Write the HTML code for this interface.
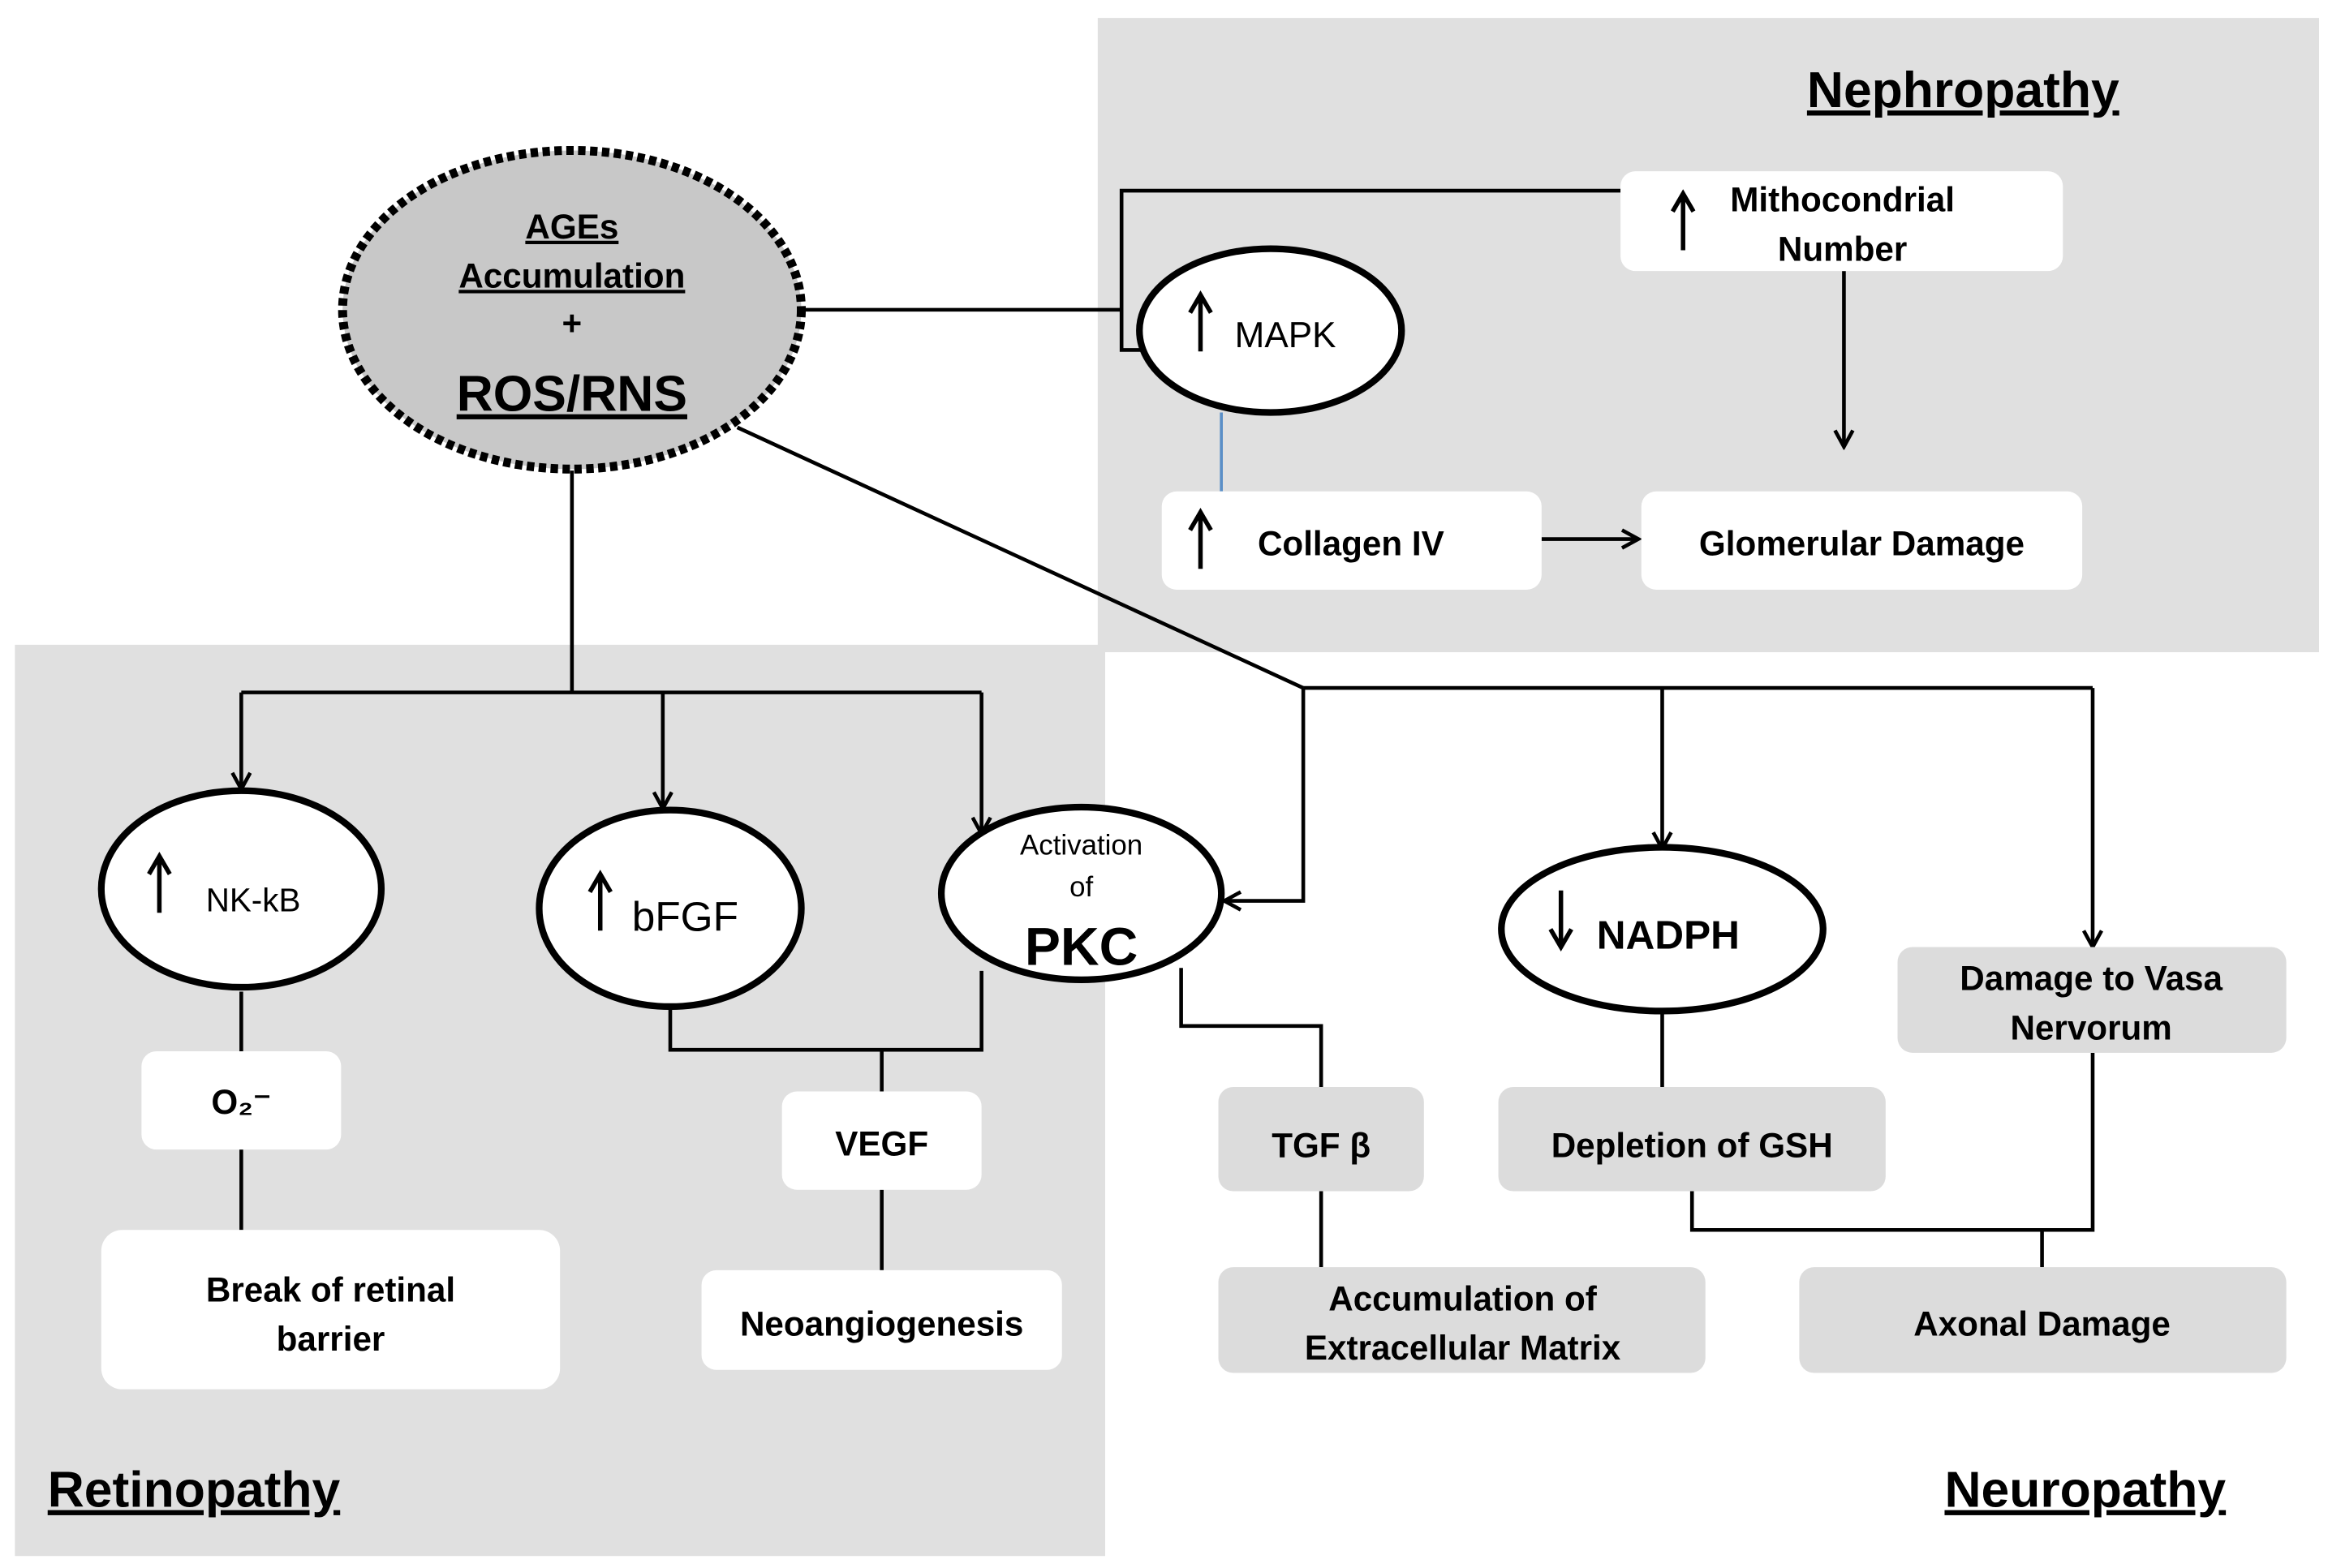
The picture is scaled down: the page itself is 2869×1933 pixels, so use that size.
<!DOCTYPE html>
<html><head><meta charset="utf-8"><style>
html,body{margin:0;padding:0;background:#fff}
svg{display:block}
text{font-family:"Liberation Sans",sans-serif;fill:#000}
.b{font-weight:bold;font-size:23px}
</style></head><body>
<svg width="2869" height="1933" viewBox="0 0 1563 1053" xmlns="http://www.w3.org/2000/svg">
<defs>
<marker id="a" markerWidth="14" markerHeight="14" refX="12" refY="7" orient="auto" markerUnits="userSpaceOnUse">
<path d="M1,1 L12,7 L1,13" fill="none" stroke="#000" stroke-width="2.5"/></marker>
</defs>
<rect width="1563" height="1053" fill="#fff"/>
<rect x="737" y="12" width="820" height="426" fill="#e0e0e0"/>
<rect x="10" y="433" width="732" height="612" fill="#e0e0e0"/>
<g stroke="#000" stroke-width="2.5" fill="none">
<polyline points="538,208 753,208"/>
<polyline points="1088,128 753,128 753,235 768,235"/>
<polyline points="1238,182 1238,300" marker-end="url(#a)"/>
<polyline points="1035,362 1100,362" marker-end="url(#a)"/>
<polyline points="495,287 875,462"/>
<polyline points="875,462 1405,462"/>
<polyline points="875,462 875,605 822,605" marker-end="url(#a)"/>
<polyline points="1116,462 1116,570" marker-end="url(#a)"/>
<polyline points="1405,462 1405,636" marker-end="url(#a)"/>
<polyline points="384,316 384,465"/>
<polyline points="162,465 659,465"/>
<polyline points="162,465 162,530" marker-end="url(#a)"/>
<polyline points="445,465 445,543" marker-end="url(#a)"/>
<polyline points="659,465 659,560" marker-end="url(#a)"/>
<polyline points="162,666 162,706"/><polyline points="162,772 162,826"/>
<polyline points="450,676 450,705 659,705 659,652"/>
<polyline points="592,705 592,733"/><polyline points="592,799 592,853"/>
<polyline points="793,650 793,689 887,689 887,730"/><polyline points="887,800 887,851"/>
<polyline points="1116,680 1116,730"/>
<polyline points="1136,800 1136,826 1405,826 1405,707"/><polyline points="1371,826 1371,851"/>
</g>
<line x1="820" y1="277" x2="820" y2="330" stroke="#5b8fc7" stroke-width="2"/>
<ellipse cx="384" cy="208" rx="154" ry="107" fill="#c8c8c8" stroke="#000" stroke-width="6" stroke-dasharray="5,3"/>
<g fill="#fff" stroke="#000" stroke-width="4.5">
<ellipse cx="853" cy="222" rx="88" ry="55"/>
<ellipse cx="162" cy="597" rx="94" ry="66"/>
<ellipse cx="450" cy="610" rx="88" ry="66"/>
<ellipse cx="726" cy="600" rx="94" ry="58"/>
<ellipse cx="1116" cy="624" rx="108" ry="55"/>
</g>
<g fill="#fff">
<rect x="1088" y="115" width="297" height="67" rx="10"/>
<rect x="780" y="330" width="255" height="66" rx="10"/>
<rect x="1102" y="330" width="296" height="66" rx="10"/>
<rect x="95" y="706" width="134" height="66" rx="10"/>
<rect x="68" y="826" width="308" height="107" rx="14"/>
<rect x="525" y="733" width="134" height="66" rx="10"/>
<rect x="471" y="853" width="242" height="67" rx="10"/>
</g>
<g fill="#dcdcdc">
<rect x="1274" y="636" width="261" height="71" rx="10"/>
<rect x="818" y="730" width="138" height="70" rx="10"/>
<rect x="818" y="851" width="327" height="71" rx="10"/>
<rect x="1006" y="730" width="260" height="70" rx="10"/>
<rect x="1208" y="851" width="327" height="71" rx="10"/>
</g>
<g text-anchor="middle">
<text x="384" y="160" class="b" text-decoration="underline">AGEs</text>
<text x="384" y="193" class="b" text-decoration="underline">Accumulation</text>
<text x="384" y="225" class="b">+</text>
<text x="384" y="276" font-weight="bold" font-size="34" text-decoration="underline">ROS/RNS</text>
<text x="1318" y="72" font-weight="bold" font-size="34" text-decoration="underline">Nephropathy</text>
<text x="1237" y="142" class="b">Mithocondrial</text>
<text x="1237" y="175" class="b">Number</text>
<text x="863" y="233" font-size="24">MAPK</text>
<text x="907" y="373" class="b">Collagen IV</text>
<text x="1250" y="373" class="b">Glomerular Damage</text>
<text x="170" y="612" font-size="22">NK-kB</text>
<text x="460" y="625" font-size="28">bFGF</text>
<text x="726" y="574" font-size="19">Activation</text>
<text x="726" y="602" font-size="19">of</text>
<text x="726" y="648" font-weight="bold" font-size="36">PKC</text>
<text x="1120" y="637" font-weight="bold" font-size="27">NADPH</text>
<text x="1404" y="665" class="b">Damage to Vasa</text>
<text x="1404" y="698" class="b">Nervorum</text>
<text x="162" y="748" class="b">O₂⁻</text>
<text x="222" y="874" class="b">Break of retinal</text>
<text x="222" y="907" class="b">barrier</text>
<text x="592" y="776" class="b">VEGF</text>
<text x="592" y="897" class="b">Neoangiogenesis</text>
<text x="887" y="777" class="b">TGF β</text>
<text x="982" y="880" class="b">Accumulation  of</text>
<text x="982" y="913" class="b">Extracellular  Matrix</text>
<text x="1136" y="777" class="b">Depletion of GSH</text>
<text x="1371" y="897" class="b">Axonal Damage</text>
<text x="1400" y="1012" font-weight="bold" font-size="34" text-decoration="underline">Neuropathy</text>
</g>
<text x="32" y="1012" font-weight="bold" font-size="34" text-decoration="underline">Retinopathy</text>
<g stroke="#000" stroke-width="3" fill="none">
<path d="M806,236 V198 M799,210 L806,198 L813,210"/>
<path d="M1130,168 V130 M1123,142 L1130,130 L1137,142"/>
<path d="M806,382 V344 M799,356 L806,344 L813,356"/>
<path d="M107,613 V575 M100,587 L107,575 L114,587"/>
<path d="M403,625 V587 M396,599 L403,587 L410,599"/>
<path d="M1048,598 V636 M1041,624 L1048,636 L1055,624"/>
</g>
</svg>
</body></html>
